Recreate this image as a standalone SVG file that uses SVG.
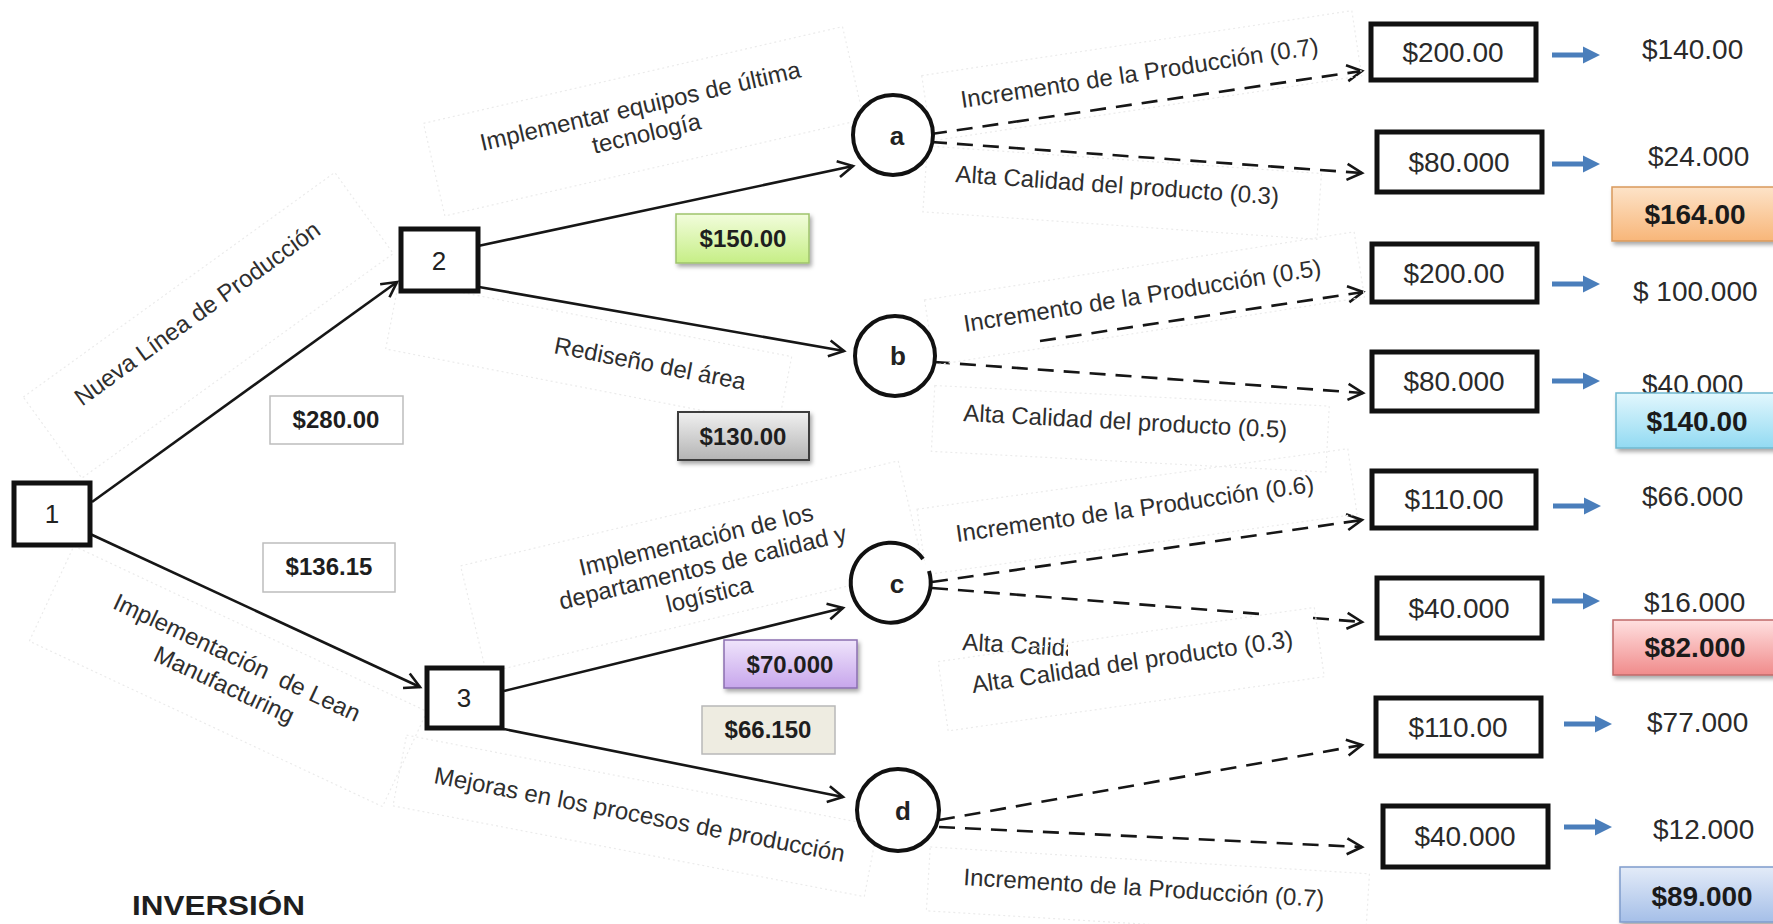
<svg xmlns="http://www.w3.org/2000/svg" width="1773" height="924" viewBox="0 0 1773 924">
  <defs>
    <style>
      text { font-family: "Liberation Sans", Arial, sans-serif; }
      .lbl { font-size: 24px; fill: #2e2e2e; }
      .num { font-size: 26px; fill: #222; }
      .ltr { font-size: 26px; font-weight: bold; fill: #222; text-anchor: middle; }
      .val { font-size: 28px; fill: #2a2a2a; }
      .cost { font-size: 24px; font-weight: bold; fill: #1e1e1e; text-anchor: middle; }
      .sum { font-size: 28px; font-weight: bold; fill: #1a1a1a; text-anchor: middle; }
      .node { fill: #fff; stroke: #111; stroke-width: 5; }
      .chance { fill: #fff; stroke: #111; stroke-width: 4; }
      .solid { fill: none; stroke: #161616; stroke-width: 2.6; marker-end: url(#open); }
      .dash { fill: none; stroke: #161616; stroke-width: 2.6; stroke-dasharray: 16 10; }
      .dash.tip { marker-end: url(#open); }
      .tb { fill: none; stroke: #ebebeb; stroke-width: 1.2; stroke-dasharray: 2 3; }
      .blue { fill: #4a7ebb; }
    </style>
    <marker id="open" markerUnits="userSpaceOnUse" markerWidth="24" markerHeight="24" viewBox="-20 -12 24 24" refX="0" refY="0" orient="auto">
      <path d="M-15,-8 L0,0 L-15,8" fill="none" stroke="#161616" stroke-width="2.6" stroke-dasharray="none"/>
    </marker>
    <path id="barrow" d="M0,-2.5 H31 V-8.5 L48,0 L31,8.5 V2.5 H0 Z"/>
    <linearGradient id="gGreen" x1="0" y1="0" x2="0" y2="1">
      <stop offset="0" stop-color="#f2fddc"/><stop offset="1" stop-color="#c6ee86"/>
    </linearGradient>
    <linearGradient id="gGray" x1="0" y1="0" x2="0" y2="1">
      <stop offset="0" stop-color="#f0f0f0"/><stop offset="1" stop-color="#b4b4b4"/>
    </linearGradient>
    <linearGradient id="gPurple" x1="0" y1="0" x2="0" y2="1">
      <stop offset="0" stop-color="#efe4fb"/><stop offset="1" stop-color="#c7a6ec"/>
    </linearGradient>
    <linearGradient id="gOrange" x1="0" y1="0" x2="0" y2="1">
      <stop offset="0" stop-color="#fde3c8"/><stop offset="1" stop-color="#f8b679"/>
    </linearGradient>
    <linearGradient id="gCyan" x1="0" y1="0" x2="0" y2="1">
      <stop offset="0" stop-color="#e2f7fd"/><stop offset="1" stop-color="#92daf2"/>
    </linearGradient>
    <linearGradient id="gPink" x1="0" y1="0" x2="0" y2="1">
      <stop offset="0" stop-color="#ffe0e0"/><stop offset="1" stop-color="#f08b8b"/>
    </linearGradient>
    <linearGradient id="gBlue" x1="0" y1="0" x2="0" y2="1">
      <stop offset="0" stop-color="#e3ebf8"/><stop offset="1" stop-color="#a5bfe8"/>
    </linearGradient>
    <filter id="shadow" x="-10%" y="-20%" width="130%" height="160%">
      <feDropShadow dx="2" dy="3" stdDeviation="2" flood-color="#000" flood-opacity="0.35"/>
    </filter>
    <clipPath id="cutC2a">
      <rect x="940" y="600" width="128" height="90"/>
    </clipPath>
  </defs>

  <rect width="1773" height="924" fill="#fff"/>

  <!-- branch labels (faint text frames + text) -->
  <g id="label-nueva" transform="translate(202,320) rotate(-35.8)">
    <rect class="tb" x="-190" y="-42" width="384" height="100"/>
    <text class="lbl" x="0" y="0" text-anchor="middle">Nueva Línea de Producción</text>
  </g>
  <g id="label-lean" transform="translate(233.5,665) rotate(25.1)">
    <rect class="tb" x="-195" y="-40" width="390" height="105"/>
    <text class="lbl" x="0" y="0" text-anchor="middle" xml:space="preserve">Implementación  de Lean</text>
    <text class="lbl" x="0" y="30" text-anchor="middle">Manufacturing</text>
  </g>
  <g id="label-equipos" transform="translate(642,114) rotate(-13)">
    <rect class="tb" x="-215" y="-40" width="430" height="95"/>
    <text class="lbl" x="0" y="0" text-anchor="middle">Implementar equipos de última</text>
    <text class="lbl" x="0" y="28" text-anchor="middle">tecnología</text>
  </g>
  <g id="label-rediseno" transform="translate(553,353) rotate(11)">
    <rect class="tb" x="-165" y="-42" width="400" height="70"/>
    <text class="lbl" x="0" y="0">Rediseño del área</text>
  </g>
  <g id="label-departamentos" transform="translate(698,548) rotate(-13.5)">
    <rect class="tb" x="-235" y="-38" width="450" height="110"/>
    <text class="lbl" x="0" y="0" text-anchor="middle">Implementación de los</text>
    <text class="lbl" x="0" y="28" text-anchor="middle">departamentos de calidad y</text>
    <text class="lbl" x="0" y="56" text-anchor="middle">logística</text>
  </g>
  <g id="label-mejoras" transform="translate(433,783) rotate(10.9)">
    <rect class="tb" x="-35" y="-42" width="480" height="72"/>
    <text class="lbl" x="0" y="0">Mejoras en los procesos de producción</text>
  </g>

  <!-- connectors -->
  <g id="connectors">
    <path class="solid" d="M92,502 L397,282"/>
    <path class="solid" d="M88,533 L420,687"/>
    <path class="solid" d="M478,246 L853,166"/>
    <path class="solid" d="M479,287 L844,351"/>
    <path class="solid" d="M504,691 L843,608"/>
    <path class="solid" d="M504,729 L843,797"/>

    <path class="dash" d="M931,134 L1013,122" stroke="#bdbdbd"/>
    <path class="dash tip" d="M1013,122 L1362,71"/>
    <path class="dash tip" d="M931,142 L1362,173"/>
    <path class="dash tip" d="M1040,341 L1363,292"/>
    <path class="dash tip" d="M934,362 L1363,393"/>
    <path class="dash tip" d="M932,582 L1362,520"/>
    <path class="dash" d="M932,588 L1267,614.5"/>
    <path class="dash tip" d="M1313,618 L1362,622"/>
    <path class="dash tip" d="M939,820 L1362,745"/>
    <path class="dash tip" d="M939,827 L1362,847"/>

    <use href="#barrow" class="blue" x="1552" y="55"/>
    <use href="#barrow" class="blue" x="1552" y="164"/>
    <use href="#barrow" class="blue" x="1552" y="284"/>
    <use href="#barrow" class="blue" x="1552" y="381"/>
    <use href="#barrow" class="blue" x="1553" y="506"/>
    <use href="#barrow" class="blue" x="1552" y="601"/>
    <use href="#barrow" class="blue" x="1564" y="724"/>
    <use href="#barrow" class="blue" x="1564" y="827"/>
  </g>

  <!-- outcome labels -->
  <g id="label-a1" transform="translate(962,108) rotate(-8.6)">
    <rect class="tb" x="-35" y="-38" width="435" height="66"/>
    <text class="lbl" x="0" y="0">Incremento de la Producción (0.7)</text>
  </g>
  <g id="label-a2" transform="translate(955,182) rotate(4)">
    <rect class="tb" x="-30" y="-34" width="395" height="66"/>
    <text class="lbl" x="0" y="0">Alta Calidad del producto (0.3)</text>
  </g>
  <g id="label-b1" transform="translate(965,332) rotate(-9)">
    <rect class="tb" x="-35" y="-38" width="435" height="66"/>
    <text class="lbl" x="0" y="0">Incremento de la Producción (0.5)</text>
  </g>
  <g id="label-b2" transform="translate(963,421) rotate(3)">
    <rect class="tb" x="-30" y="-34" width="395" height="66"/>
    <text class="lbl" x="0" y="0">Alta Calidad del producto (0.5)</text>
  </g>
  <g id="label-c1" transform="translate(957,542) rotate(-8)">
    <rect class="tb" x="-35" y="-38" width="435" height="66"/>
    <text class="lbl" x="0" y="0">Incremento de la Producción (0.6)</text>
  </g>
  <g id="label-c2a" clip-path="url(#cutC2a)">
    <text class="lbl" transform="translate(962,650) rotate(3.3)" x="0" y="0">Alta Calidad del producto (0.3)</text>
  </g>
  <g id="label-c2b" transform="translate(973,693) rotate(-8.2)">
    <rect class="tb" x="-30" y="-36" width="380" height="70"/>
    <text class="lbl" x="0" y="0">Alta Calidad del producto (0.3)</text>
  </g>
  <g id="label-d" transform="translate(963,885) rotate(3.5)">
    <rect class="tb" x="-35" y="-36" width="440" height="64"/>
    <text class="lbl" x="0" y="0">Incremento de la Producción (0.7)</text>
  </g>

  <!-- decision nodes -->
  <g id="node-1"><rect class="node" x="14" y="483" width="76" height="62"/><text class="num" x="52" y="523" text-anchor="middle">1</text></g>
  <g id="node-2"><rect class="node" x="401" y="229" width="77" height="62"/><text class="num" x="439" y="270" text-anchor="middle">2</text></g>
  <g id="node-3"><rect class="node" x="427" y="668" width="75" height="60"/><text class="num" x="464" y="707" text-anchor="middle">3</text></g>

  <!-- chance nodes -->
  <g id="node-a"><circle class="chance" cx="893" cy="135" r="40"/><text class="ltr" x="897" y="145">a</text></g>
  <g id="node-b"><circle class="chance" cx="895" cy="356" r="40"/><text class="ltr" x="898" y="365">b</text></g>
  <g id="node-c"><path class="chance" d="M923,559 A40,40 0 1 0 929,571" fill="#fff"/><text class="ltr" x="897" y="593">c</text></g>
  <g id="node-d"><circle class="chance" cx="898" cy="810" r="41"/><text class="ltr" x="903" y="820">d</text></g>

  <!-- cost boxes -->
  <g id="cost-280"><rect x="270" y="396" width="133" height="48" fill="#fff" stroke="#bdbdbd" stroke-width="1.5"/><text class="cost" x="336" y="428">$280.00</text></g>
  <g id="cost-136"><rect x="263" y="543" width="132" height="49" fill="#fff" stroke="#bdbdbd" stroke-width="1.5"/><text class="cost" x="329" y="575">$136.15</text></g>
  <g id="cost-150"><rect x="676" y="214" width="133" height="49" fill="url(#gGreen)" stroke="#9fc36c" stroke-width="1.5" filter="url(#shadow)"/><text class="cost" x="743" y="247">$150.00</text></g>
  <g id="cost-130"><rect x="678" y="412" width="131" height="48" fill="url(#gGray)" stroke="#3c3c3c" stroke-width="2" filter="url(#shadow)"/><text class="cost" x="743" y="445">$130.00</text></g>
  <g id="cost-70"><rect x="724" y="640" width="133" height="48" fill="url(#gPurple)" stroke="#8a6fb0" stroke-width="1.5" filter="url(#shadow)"/><text class="cost" x="790" y="673">$70.000</text></g>
  <g id="cost-66"><rect x="702" y="706" width="133" height="48" fill="#eeece1" stroke="#b8b8b8" stroke-width="1.5"/><text class="cost" x="768" y="738">$66.150</text></g>

  <!-- outcome boxes -->
  <g id="out-1"><rect class="node" x="1371" y="24" width="165" height="56"/><text class="val" x="1453" y="62" text-anchor="middle">$200.00</text></g>
  <g id="out-2"><rect class="node" x="1377" y="132" width="165" height="60"/><text class="val" x="1459" y="172" text-anchor="middle">$80.000</text></g>
  <g id="out-3"><rect class="node" x="1372" y="244" width="165" height="58"/><text class="val" x="1454" y="283" text-anchor="middle">$200.00</text></g>
  <g id="out-4"><rect class="node" x="1372" y="352" width="165" height="59"/><text class="val" x="1454" y="391" text-anchor="middle">$80.000</text></g>
  <g id="out-5"><rect class="node" x="1372" y="471" width="164" height="57"/><text class="val" x="1454" y="509" text-anchor="middle">$110.00</text></g>
  <g id="out-6"><rect class="node" x="1377" y="578" width="165" height="60"/><text class="val" x="1459" y="618" text-anchor="middle">$40.000</text></g>
  <g id="out-7"><rect class="node" x="1376" y="698" width="165" height="58"/><text class="val" x="1458" y="737" text-anchor="middle">$110.00</text></g>
  <g id="out-8"><rect class="node" x="1383" y="806" width="165" height="61"/><text class="val" x="1465" y="846" text-anchor="middle">$40.000</text></g>

  <!-- expected values -->
  <g id="ev">
    <text class="val" x="1642" y="59">$140.00</text>
    <text class="val" x="1648" y="166">$24.000</text>
    <text class="val" x="1633" y="301">$ 100.000</text>
    <text class="val" x="1642" y="394">$40.000</text>
    <text class="val" x="1642" y="506">$66.000</text>
    <text class="val" x="1644" y="612">$16.000</text>
    <text class="val" x="1647" y="732">$77.000</text>
    <text class="val" x="1653" y="839">$12.000</text>
  </g>

  <!-- branch totals -->
  <g id="total-a"><rect x="1612" y="187" width="180" height="54" fill="url(#gOrange)" stroke="#d9995c" stroke-width="1.5" filter="url(#shadow)"/><text class="sum" x="1695" y="224">$164.00</text></g>
  <g id="total-b"><rect x="1616" y="393" width="180" height="55" fill="url(#gCyan)" stroke="#6fb8cf" stroke-width="1.5" filter="url(#shadow)"/><text class="sum" x="1697" y="431">$140.00</text></g>
  <g id="total-c"><rect x="1613" y="620" width="180" height="55" fill="url(#gPink)" stroke="#c06a6a" stroke-width="1.5" filter="url(#shadow)"/><text class="sum" x="1695" y="657">$82.000</text></g>
  <g id="total-d"><rect x="1620" y="867" width="180" height="55" fill="url(#gBlue)" stroke="#7f9ccc" stroke-width="1.5" filter="url(#shadow)"/><text class="sum" x="1702" y="906">$89.000</text></g>

  <g id="title">
    <text x="132" y="915" font-size="28" font-weight="bold" fill="#1e1e1e" textLength="173" lengthAdjust="spacingAndGlyphs">INVERSIÓN</text>
  </g>
</svg>
